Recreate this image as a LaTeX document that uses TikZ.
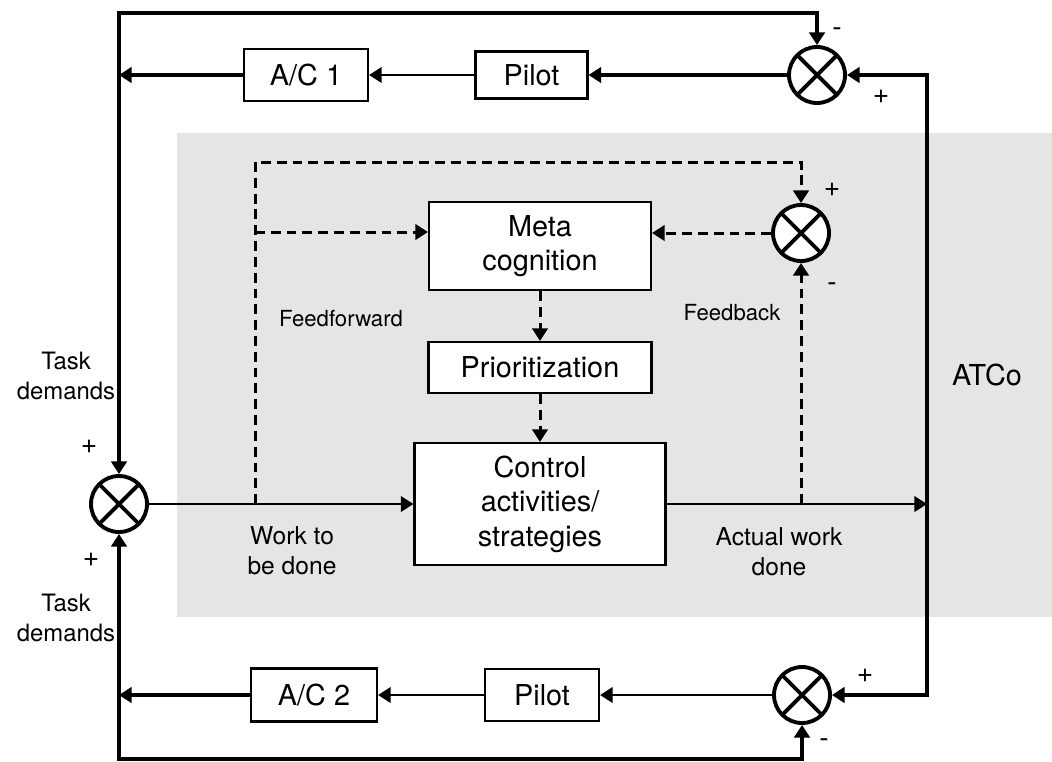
\documentclass[tikz,border=0pt]{standalone}
\usepackage{fontspec}
\setmainfont{TeX Gyre Heros}
\usetikzlibrary{calc}
\usetikzlibrary{arrows.meta}
\usetikzlibrary{backgrounds}
\definecolor[named]{ATCoGray}{gray}{0.9}
\newcommand{\boxfont}{\fontsize{8.2}{9.8}\selectfont}
\newcommand{\lblfont}{\fontsize{7}{8.6}\selectfont}
\newcommand{\smallfont}{\fontsize{6.3}{7.5}\selectfont}
\tikzset{
  block/.style={draw,rectangle,fill=white,line width=0.6pt,inner sep=0pt,
    align=center,font=\boxfont},
  summer/.style={draw,circle,fill=white,line width=1.1pt,minimum size=0.56cm,inner sep=0pt,
    path picture={
      \draw[line width=1.1pt]
        (path picture bounding box.north west) -- (path picture bounding box.south east)
        (path picture bounding box.south west) -- (path picture bounding box.north east);
    }},
  heavy/.style={line width=1.15pt},
  light/.style={line width=0.75pt},
  dashflow/.style={line width=0.85pt,dash pattern=on 2.8pt off 1.7pt},
  lbl/.style={align=center,font=\lblfont,inner sep=0pt},
  sign/.style={font=\fontsize{8}{9}\selectfont,inner sep=0pt}
}

\begin{document}
\begin{tikzpicture}[>={Triangle[length=3.6pt,width=4.4pt]}]
  \useasboundingbox (0,0) rectangle (10.52,7.61);

  % ATCo area {{{
  \fill[ATCoGray] (1.77,1.44) rectangle (10.52,6.28);
  \node[font=\boxfont] (atco) at (9.87,3.86) {ATCo};
  % }}}

  % Blocks {{{
  \node[block,minimum width=2.22cm,minimum height=0.88cm] (meta) at (5.40,5.15) {Meta\\cognition};
  \node[block,minimum width=2.23cm,minimum height=0.51cm] (prio) at (5.40,3.935) {Prioritization};
  \node[block,minimum width=2.51cm,minimum height=1.22cm] (ctrl) at (5.40,2.57) {Control\\activities/\\strategies};

  \node[block,minimum width=1.12cm,minimum height=0.47cm] (pilot1) at (5.315,6.86) {Pilot};
  \node[block,minimum width=1.24cm,minimum height=0.52cm] (ac1) at (3.06,6.86) {A/C 1};
  \node[block,minimum width=1.14cm,minimum height=0.52cm] (pilot2) at (5.42,0.66) {Pilot};
  \node[block,minimum width=1.26cm,minimum height=0.53cm] (ac2) at (3.14,0.66) {A/C 2};

  \node[summer] (lj) at (1.19,2.57) {};
  \node[summer] (tj) at (8.17,6.86) {};
  \node[summer] (bj) at (8.02,0.66) {};
  \node[summer] (fj) at (8.01,5.28) {};
  % }}}

  % Helper points {{{
  \coordinate (topc) at (4,7.48);
  \coordinate (botc) at (4,0.02);
  \coordinate (out) at (9.27,2.57);
  \coordinate (ff) at (2.55,2.57);
  \coordinate (fftop) at (2.55,5.99);
  \coordinate (ffmid) at (2.55,5.29);
  \coordinate (fb) at (8.01,2.57);
  % }}}

  % Outer loops {{{
  \draw[heavy,<->] (lj) |- (topc) -| (tj);
  \draw[heavy,<->] (lj) |- (botc) -| (bj);
  \draw[heavy,<->] (tj) -| (out) |- (bj);
  \draw[heavy,->] (tj) -- (pilot1);
  \draw[light,->] (pilot1) -- (ac1);
  \draw[heavy,->] (ac1) -- (ac1 -| lj);
  \draw[light,->] (bj) -- (pilot2);
  \draw[light,->] (pilot2) -- (ac2);
  \draw[heavy,->] (ac2) -- (ac2 -| lj);
  % }}}

  % Work flow {{{
  \draw[light,->] (lj) -- (ctrl);
  \draw[light,->] (ctrl) -- (out);
  % }}}

  % Feedforward / feedback {{{
  \draw[dashflow,->] (ff) -- (fftop) -| (fj);
  \draw[dashflow,->] (ffmid) -- (ffmid -| meta.west);
  \draw[dashflow,->] (fj) -- (fj -| meta.east);
  \draw[dashflow,->] (meta) -- (prio);
  \draw[dashflow,->] (prio) -- (ctrl);
  \draw[dashflow,->] (fb) -- (fj);
  % }}}

  % Labels {{{
  \node[lbl,font=\fontsize{6.8}{8.6}\selectfont] (td1) at (0.66,3.85) {Task\\demands};
  \node[lbl,font=\fontsize{6.8}{8.6}\selectfont] (td2) at (0.66,1.43) {Task\\demands};
  \node[sign] at (0.89,3.14) {+};
  \node[sign] at (0.91,2.01) {+};
  \node[lbl] (wtbd) at (2.92,2.10) {Work to\\be done};
  \node[lbl] (awd) at (7.79,2.09) {Actual work\\done};
  \node[font=\smallfont,inner sep=0pt] (ffl) at (3.41,4.42) {Feedforward};
  \node[font=\smallfont,inner sep=0pt] (fbl) at (7.32,4.48) {Feedback};

  \node[sign] at (8.37,7.29) {-};
  \node[sign] at (8.81,6.64) {+};
  \node[sign] at (8.32,5.71) {+};
  \node[sign] at (8.32,4.74) {-};
  \node[sign] at (8.65,0.85) {+};
  \node[sign] at (8.24,0.18) {-};
  % }}}
\end{tikzpicture}
\end{document}
